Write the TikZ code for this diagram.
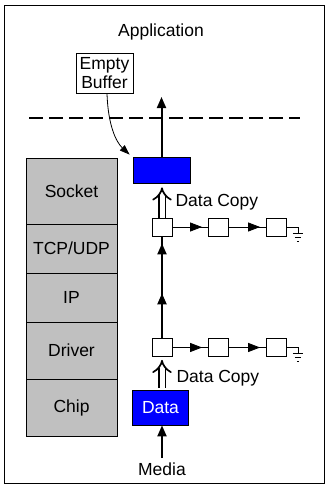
\documentclass[tikz,border=0pt]{standalone}
\usepackage{fontspec}
\setmainfont{Liberation Sans}
\usetikzlibrary{arrows.meta,calc}
\definecolor{layergray}{HTML}{C0C0C0}
\definecolor{pureblue}{HTML}{0000FF}
\begin{document}
\begin{tikzpicture}[x=1pt,y=-1pt,
  font=\fontsize{17.5}{21}\selectfont,
  layer/.style={draw, line width=0.8pt, fill=layergray, minimum width=91pt, inner sep=0pt},
  sbox/.style={draw, line width=0.8pt, fill=white, minimum width=20pt, minimum height=18pt, inner sep=0pt},
  bluebox/.style={draw, line width=0.8pt, fill=pureblue, inner sep=0pt},
  bigtip/.style={-{Triangle[length=11pt,width=9pt]}},
  smalltip/.style={-{Triangle[length=12pt,width=9pt]}},
  thickline/.style={line width=2pt},
  copyarrow/.style={double, double distance=5pt, line width=1.7pt, -{Implies}}]
\useasboundingbox (0,0) rectangle (333,499);
% frame
\draw[line width=1pt] (4,5) rectangle (324,483);
% texts
\node (app) at (161,32) {Application};
\node[draw, line width=0.8pt, fill=white, align=center, minimum width=57pt, minimum height=40pt, inner sep=1pt] (eb) at (104.5,73) {Empty\\[-2pt]Buffer};
% dashed line
\coordinate (dl) at (29,118);
\coordinate (dr) at (300,118);
\draw[line width=2.5pt, dash pattern=on 14pt off 6pt] (dl) -- (dr);
% layer stack
\node[layer, minimum height=66pt] (socket) at (71.5,191) {Socket};
\node[layer, minimum height=49pt] (tcp) at (71.5,248.5) {TCP/UDP};
\node[layer, minimum height=49pt] (ip) at (71.5,297.5) {IP};
\node[layer, minimum height=57pt] (driver) at (71.5,350.5) {Driver};
\node[layer, minimum height=57pt] (chip) at (71.5,407.5) {Chip};
% blue boxes
\node[bluebox, minimum width=57pt, minimum height=26pt] (bt) at (161.5,170) {};
\node[bluebox, minimum width=56pt, minimum height=35pt, text=white] (data) at (160.5,407.5) {Data};
% small boxes
\node[sbox] (a1) at (162,227) {};
\node[sbox] (a2) at (218.5,227) {};
\node[sbox] (a3) at (276.5,227) {};
\node[sbox] (b1) at (162,347.5) {};
\node[sbox] (b2) at (218.5,347.5) {};
\node[sbox] (b3) at (276.5,347.5) {};
% media
\node (media) at (162,469) {Media};
% up arrow through dashed line
\coordinate (toptip) at (161.5,97);
\draw[thickline, bigtip] (bt.north) -- (toptip);
% empty buffer curve
\draw[line width=0.8pt, -{Triangle[length=10pt,width=7pt]}] ($(eb.south)+(2.5,0)$) .. controls (108,125) and (116,142) .. ($(bt.north west)+(-3,-2)$);
% data copy arrows
\draw[copyarrow] (a1.north) -- ($(bt.south)+(0.5,4)$);
\node[anchor=west] (dc1) at (172,202) {Data Copy};
\draw[copyarrow] ($(data.north)+(1.5,-2)$) -- ($(b1.south)+(0,3)$);
\node[anchor=west] (dc2) at (173,378) {Data Copy};
% vertical link between rows
\draw[thickline] (b1.north) -- (a1.south);
\draw[thickline, bigtip] (b1.north) -- ($(b1.north)!0.44!(a1.south)$);
\draw[thickline, bigtip] (b1.north) -- ($(a1.south)+(0,7)$);
% media arrow
\draw[thickline, bigtip] ($(media.north)+(0,-1)$) -- ($(data.south)+(1.5,0)$);
% horizontal chains
\foreach \p/\q in {a1/a2, a2/a3, b1/b2, b2/b3}{
  \draw[line width=0.8pt] (\p.east) -- (\q.west);
  \draw[line width=0.8pt, smalltip] (\p.east) -- ($(\q.west)+(-6,0)$);
}
% grounds
\foreach \r in {a3, b3}{
  \coordinate (g\r) at ($(\r.east)+(11,0)$);
  \draw[line width=0.8pt] (\r.east) -- (g\r) -- ++(0,6);
  \draw[line width=0.8pt] ($(g\r)+(-5,6)$) -- ++(10,0);
  \draw[line width=0.8pt] ($(g\r)+(-3,10)$) -- ++(6,0);
  \draw[line width=0.8pt] ($(g\r)+(-1,14)$) -- ++(2,0);
}
\end{tikzpicture}
\end{document}
